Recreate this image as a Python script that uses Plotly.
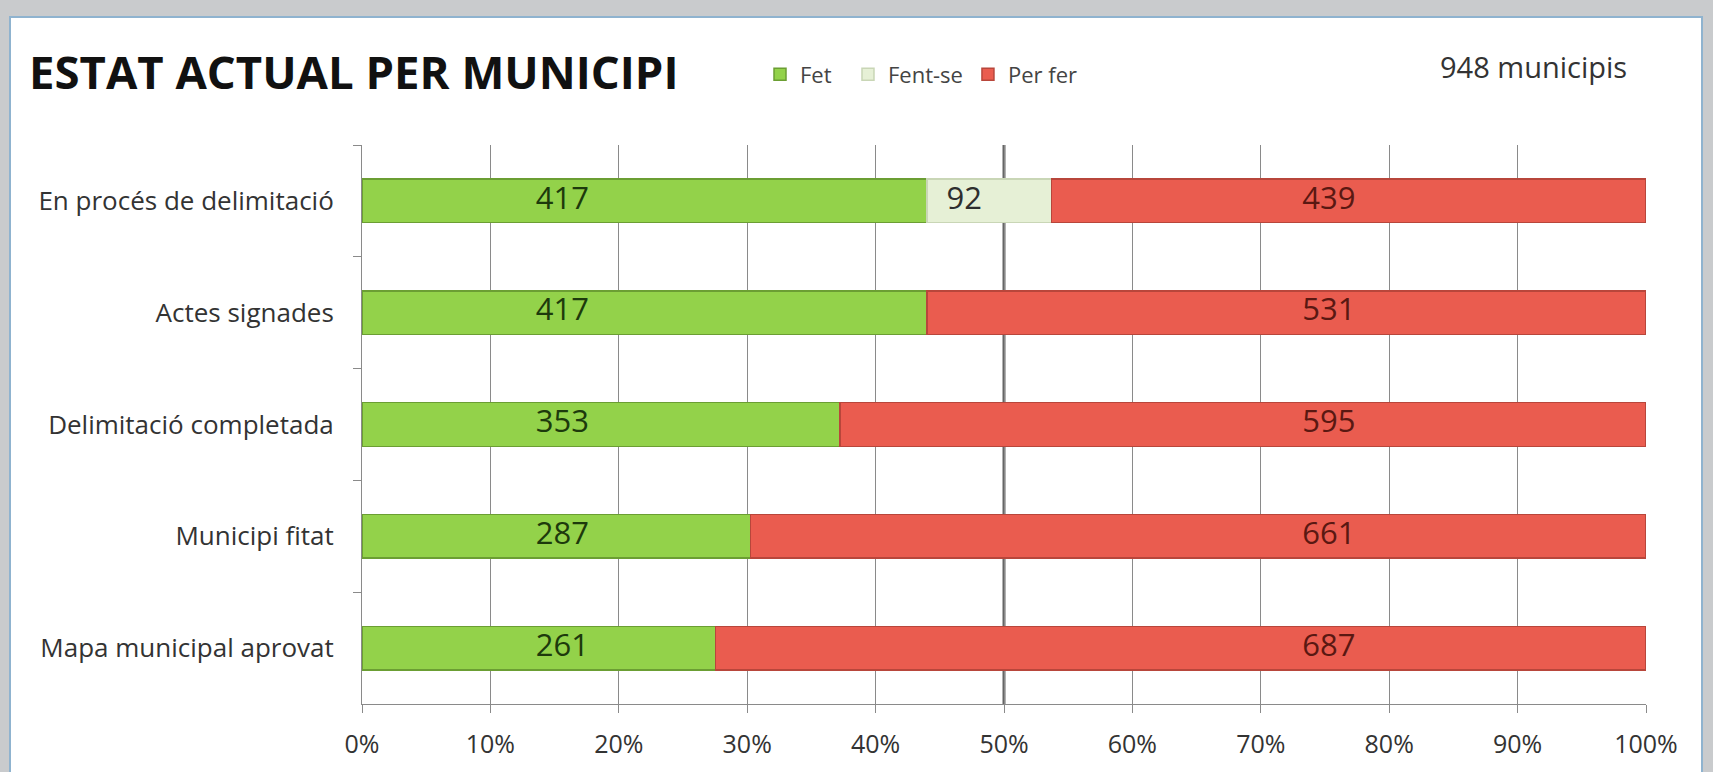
import plotly.graph_objects as go

categories = ["En procés de delimitació", "Actes signades", "Delimitació completada",
              "Municipi fitat", "Mapa municipal aprovat"]
fet = [417, 417, 353, 287, 261]
fent_se = [92, 0, 0, 0, 0]
per_fer = [439, 531, 595, 661, 687]
x_ticks = [0, 10, 20, 30, 40, 50, 60, 70, 80, 90, 100]
x_tick_labels = [f"{v}%" for v in x_ticks]

# label columns (in % of the axis), as placed in the original chart
LABEL_X = {"Fet": 15.6, "Fent-se": 46.9, "Per fer": 75.3}

W, H = 1713, 772
L, R, T, B = 362, 1646, 145, 708  # plot area in px


def px(xp):
    return (xp - L) / (R - L)


def py(yp):
    return (B - yp) / (B - T)


FONT = "Open Sans"
BG = "#c9cbcd"

series = [
    ("Fet", fet, "#93d24a", "#6b9e33", "#1d3a0c"),
    ("Fent-se", fent_se, "#e6f0d6", "#c9d6b6", "#2e2e2e"),
    ("Per fer", per_fer, "#ea5c4f", "#b8463b", "#5a1812"),
]

fig = go.Figure()
for name, vals, col, edge, tcol in series:
    fig.add_trace(go.Bar(
        y=categories, x=vals, name=name + ("\u00a0\u00a0" if name == "Fet" else ""),
        orientation="h",
        marker=dict(color=col, line=dict(color=edge, width=1.5)),
        hoverinfo="skip",
    ))
for name, vals, col, edge, tcol in series:
    ys = [c for c, v in zip(categories, vals) if v]
    txt = [str(v) for v in vals if v]
    fig.add_trace(go.Scatter(
        y=ys, x=[LABEL_X[name]] * len(ys), mode="text", text=txt,
        textfont=dict(family=FONT, size=31, color=tcol), showlegend=False,
        hoverinfo="skip", cliponaxis=False,
    ))

shapes = [
    # white panel
    dict(type="rect", xref="paper", yref="paper", x0=px(10), x1=px(1702), y0=py(790), y1=py(16),
         fillcolor="white", line=dict(color="#8fb3cf", width=2), layer="below"),
    # 50% reference line
    dict(type="line", xref="x", yref="paper", x0=50, x1=50, y0=0, y1=1,
         line=dict(color="#666666", width=3), layer="below"),
]

annotations = [
    dict(text="<b>ESTAT ACTUAL PER MUNICIPI</b>", xref="paper", yref="paper",
         x=px(27), y=py(70), xanchor="left", yanchor="middle", showarrow=False,
         font=dict(family=FONT, size=45.5, color="#111111")),
    dict(text="948 municipis", xref="paper", yref="paper",
         x=px(1629), y=py(66), xanchor="right", yanchor="middle", showarrow=False,
         font=dict(family=FONT, size=29, color="#333333")),
]

fig.update_layout(
    width=W, height=H,
    margin=dict(l=L, r=W - R, t=T, b=H - B),
    barmode="stack", barnorm="percent", bargap=0.61,
    paper_bgcolor=BG, plot_bgcolor="white",
    font=dict(family=FONT, color="#333333", size=25),
    shapes=shapes, annotations=annotations,
    legend=dict(orientation="h", x=px(760), y=py(74), xanchor="left", yanchor="middle",
                font=dict(size=22, color="#444444"), bgcolor="rgba(0,0,0,0)",
                traceorder="normal", itemwidth=30),
    xaxis=dict(range=[0, 100], tickvals=x_ticks, ticktext=x_tick_labels,
               showgrid=True, gridcolor="#8a8a8a", gridwidth=1,
               showline=True, linecolor="#8a8a8a", linewidth=1,
               ticks="outside", ticklen=8, tickcolor="#8a8a8a", ticklabelstandoff=10,
               tickfont=dict(size=25, color="#333333"), zeroline=False, fixedrange=True),
    yaxis=dict(categoryorder="array", categoryarray=categories, autorange="reversed",
               showline=True, linecolor="#8a8a8a", linewidth=1,
               ticks="outside", ticklen=8, tickcolor="#8a8a8a", tickson="boundaries",
               tickfont=dict(size=26, color="#333333"), ticklabelstandoff=22, showgrid=False,
               fixedrange=True),
)

fig.write_html("out.html", config={"displayModeBar": False},
               post_script="document.body.style.margin='0';document.body.style.background='%s';" % BG)
